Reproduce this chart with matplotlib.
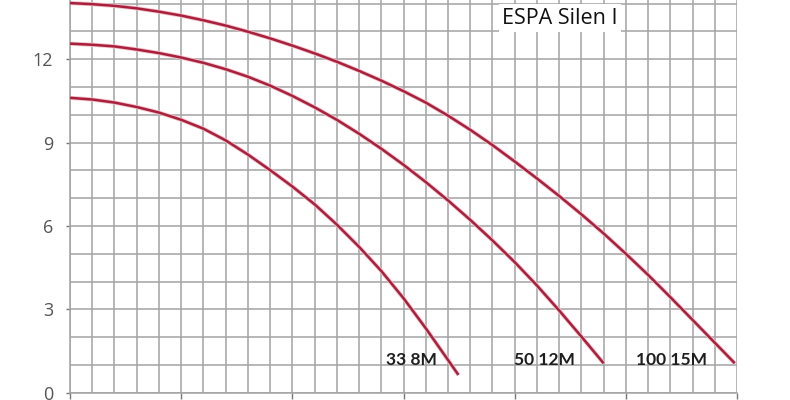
import numpy as np
import matplotlib
matplotlib.use("Agg")
import matplotlib.pyplot as plt

# flow (m3/h) vs head (m)
q_100 = [0, 1, 2, 3, 4, 5, 6, 7, 8, 9, 10, 11, 12, 13, 14, 15, 16, 17, 18,
         19, 20, 21, 22, 23, 24, 25, 26, 27, 28, 29, 29.9]
h_100 = [14.02, 13.98, 13.92, 13.83, 13.71, 13.57, 13.40, 13.21, 12.99, 12.75,
         12.49, 12.21, 11.91, 11.58, 11.23, 10.85, 10.44, 9.97, 9.46, 8.91,
         8.32, 7.71, 7.08, 6.42, 5.73, 5.00, 4.24, 3.44, 2.62, 1.80, 1.06]

q_50 = [0, 1, 2, 3, 4, 5, 6, 7, 8, 9, 10, 11, 12, 13, 14, 15, 16, 17, 18,
        19, 20, 21, 22, 23, 24]
h_50 = [12.56, 12.52, 12.46, 12.35, 12.22, 12.06, 11.87, 11.64, 11.37, 11.05,
        10.68, 10.27, 9.82, 9.32, 8.78, 8.20, 7.58, 6.92, 6.22, 5.48, 4.70,
        3.86, 2.96, 2.02, 1.06]

q_33 = [0, 1, 2, 3, 4, 5, 6, 7, 8, 9, 10, 11, 12, 13, 14, 15, 16, 17, 17.47]
h_33 = [10.61, 10.55, 10.44, 10.28, 10.08, 9.82, 9.50, 9.08, 8.57, 8.01,
        7.42, 6.78, 6.05, 5.25, 4.38, 3.40, 2.32, 1.18, 0.64]

labels = ["33 8M", "50 12M", "100 15M"]
label_x = [14.2, 19.95, 25.45]
label_y = 1.18
title = "ESPA Silen I"
yticks = [0, 3, 6, 9, 12]

red = "#a8203c"
grid = "#a3a3a3"

fig = plt.figure(figsize=(7.9, 4.0), dpi=100)
ax = fig.add_axes([70 / 790, 7.3 / 400, 667 / 790, 1 - 7.3 / 400])
ax.set_xlim(0, 30)
ax.set_ylim(0, 14.13)

for x in range(0, 31):
    ax.axvline(x, color=grid, lw=1.1, zorder=1)
for y in range(0, 15):
    ax.axhline(y, color=grid, lw=1.1, zorder=1)

for q, h in [(q_33, h_33), (q_50, h_50), (q_100, h_100)]:
    ax.plot(q, h, color="#f2c0cb", lw=3.0, zorder=2, solid_capstyle="butt")
    ax.plot(q, h, color=red, lw=1.8, zorder=3, solid_capstyle="butt")

for lab, lx in zip(labels, label_x):
    ax.text(lx, label_y, lab, fontsize=12.5, fontweight="bold", family="Lato",
            color="#1e1e1e", va="center", ha="left", zorder=4)

ax.text(502 / 790, 0.955, title, transform=fig.transFigure, fontsize=15.5,
        family="Open Sans", color="#111111", va="center", ha="left", zorder=5,
        bbox=dict(facecolor="white", edgecolor="none", pad=2.5))

for s in ["top", "right"]:
    ax.spines[s].set_visible(False)
ax.spines["left"].set_color(grid)
ax.spines["bottom"].set_color(grid)
ax.spines["left"].set_linewidth(1.1)
ax.spines["bottom"].set_linewidth(1.1)

ax.set_yticks(yticks)
ax.set_yticklabels([str(v) for v in yticks], fontsize=13, family="Open Sans", color="#555555")
ax.tick_params(axis="y", length=3, width=1, color="#777777", pad=9)
ax.set_xticks([0, 5, 10, 15, 20, 25, 30])
ax.set_xticklabels([])
ax.tick_params(axis="x", length=4, width=1, color="#777777")

fig.savefig("out.png", dpi=100)
